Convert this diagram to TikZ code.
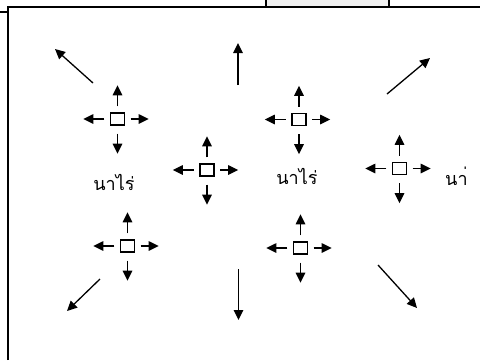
\documentclass[tikz,border=0pt]{standalone}
\usepackage{fontspec}
\newfontfamily\thaifont[Script=Thai]{Loma}
\usetikzlibrary{arrows.meta}
\begin{document}
\begin{tikzpicture}[x=1pt,y=-1pt,
  frame/.style={line width=1.6pt},
  arr/.style={line width=1.3pt,-{Triangle[length=10pt,width=9.5pt]}},
  plot/.style={draw,line width=1.3pt,minimum width=14pt,minimum height=12pt,inner sep=0pt},
  lbl/.style={font=\thaifont\fontsize{18}{20}\selectfont,inner sep=0pt}]
\useasboundingbox (0,0) rectangle (480,360);
% page frame
\fill[gray!12] (266,0) rectangle (389,7);
\draw[frame] (266,0) -- (266,7);
\draw[frame] (389,0) -- (389,7);
\draw[frame] (8,360) -- (8,7) -- (480,7);
\draw[frame] (0,12) -- (8,12);
% plots with four outgoing arrows each
\foreach \n/\x/\y in {a/117.5/119, b/207/170, c/299/119.5, d/399.5/168.5, e/127.5/246, f/300.5/248}{
  \node[plot] (\n) at (\x,\y) {};
  \draw[arr] ([yshift=6pt]\n.north) -- ++(0,-21);
  \draw[arr] ([yshift=-8pt]\n.south) -- ++(0,20);
  \draw[arr] ([xshift=-5.5pt]\n.west) -- ++(-21,0);
  \draw[arr] ([xshift=5.5pt]\n.east) -- ++(18,0);
}
% spread toward the edges
\coordinate (tl0) at (93,83);   \coordinate (tl1) at (55,49);
\coordinate (tc0) at (238,85);  \coordinate (tc1) at (238,43);
\coordinate (tr0) at (387,94);  \coordinate (tr1) at (430,58);
\coordinate (bl0) at (100,279); \coordinate (bl1) at (67,311);
\coordinate (bc0) at (238.5,269); \coordinate (bc1) at (238.5,320);
\coordinate (br0) at (378,265); \coordinate (br1) at (417,308);
\foreach \p in {tl,tc,tr,bl,bc,br}{\draw[arr] (\p0) -- (\p1);}
% labels
\node[lbl] (n1) at (114,182) {นาไร่};
\node[lbl] (n2) at (297,176) {นาไร่};
\node[lbl,anchor=west] (n3) at (445,176) {นา่};
\end{tikzpicture}
\end{document}
